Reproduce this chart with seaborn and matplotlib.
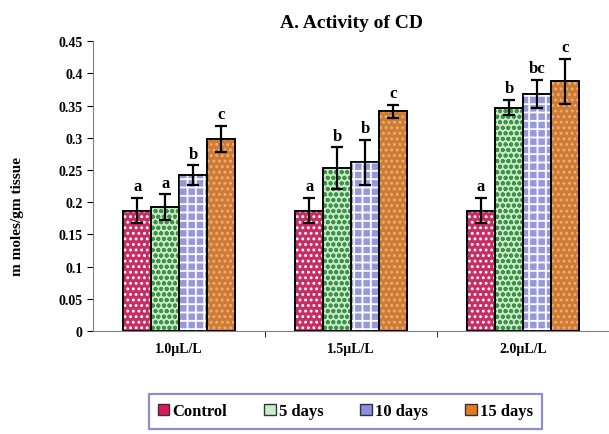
import pandas as pd
import numpy as np
import matplotlib.pyplot as plt
import seaborn as sns
from matplotlib.patches import Rectangle
from matplotlib.ticker import FuncFormatter, FixedLocator

# -----------------------------
# Data
# -----------------------------
doses = ["1.0\u00b5L/L", "1.5\u00b5L/L", "2.0\u00b5L/L"]
periods = ["Control", "5 days", "10 days", "15 days"]

control = [0.187, 0.187, 0.187]
days5 = [0.192, 0.253, 0.347]
days10 = [0.242, 0.262, 0.368]
days15 = [0.298, 0.341, 0.388]

err_control = [0.020, 0.020, 0.020]
err_days5 = [0.020, 0.032, 0.012]
err_days10 = [0.015, 0.035, 0.022]
err_days15 = [0.020, 0.010, 0.035]

letters_control = ["a", "a", "a"]
letters_days5 = ["a", "b", "b"]
letters_days10 = ["b", "b", "bc"]
letters_days15 = ["c", "c", "c"]

values = [control, days5, days10, days15]
errors = [err_control, err_days5, err_days10, err_days15]
letters = [letters_control, letters_days5, letters_days10, letters_days15]

rows = []
for p, vals, errs, lets in zip(periods, values, errors, letters):
    for d, v, e, l in zip(doses, vals, errs, lets):
        rows.append({"dose": d, "period": p, "value": v, "err": e, "letter": l})
df = pd.DataFrame(rows)

# fill colour, hatch colour, hatch pattern
face_colors = ["#e0145c", "#c8eec8", "#8c8ce6", "#e57a1e"]
hatch_colors = ["white", "#3a9444", "white", "#f4ad6a"]
hatches = ["...", "ooo", "++", "..."]

plt.rcParams["font.family"] = ["Liberation Serif", "DejaVu Serif"]
plt.rcParams["font.weight"] = "bold"
plt.rcParams["hatch.linewidth"] = 1.3

fig = plt.figure(figsize=(6.09, 4.35), dpi=100)
ax = fig.add_axes([0.153, 0.237, 0.847, 0.666])

sns.barplot(
    data=df, x="dose", y="value", hue="period",
    order=doses, hue_order=periods,
    palette=face_colors, width=0.65, errorbar=None,
    edgecolor="black", linewidth=1.2, legend=False, ax=ax
)

# hatch overlays + error bars + letters
for i, p in enumerate(periods):
    bars = ax.containers[i]
    sub = df[df["period"] == p].set_index("dose").loc[doses]
    for bar, (_, r) in zip(bars, sub.iterrows()):
        x0, w, h = bar.get_x(), bar.get_width(), bar.get_height()
        ax.add_patch(Rectangle((x0, 0), w, h, facecolor="none",
                               edgecolor=hatch_colors[i], hatch=hatches[i],
                               linewidth=0, zorder=bar.get_zorder() + 0.1))
        ax.add_patch(Rectangle((x0, 0), w, h, facecolor="none",
                               edgecolor="black", linewidth=1.2,
                               zorder=bar.get_zorder() + 0.2))
        xc = x0 + w / 2
        ax.errorbar(xc, h, yerr=r["err"], color="black", capsize=4,
                    elinewidth=1.6, capthick=1.6, zorder=5)
        ax.text(xc, h + r["err"] + 0.006, r["letter"], ha="center",
                va="bottom", fontsize=12, fontweight="bold")

ax.set_ylim(0, 0.45)
ax.set_xlim(-0.5, 2.5)
ax.set_yticks(np.arange(0, 0.451, 0.05))
ax.yaxis.set_major_formatter(FuncFormatter(lambda v, _: f"{v:.2f}".rstrip("0").rstrip(".") if v else "0"))
ax.tick_params(axis="y", labelsize=10, length=4, direction="out")
ax.tick_params(axis="x", which="major", length=0, labelsize=10, pad=8)
ax.xaxis.set_minor_locator(FixedLocator([0.5, 1.5]))
ax.tick_params(axis="x", which="minor", length=4)
for lab in ax.get_xticklabels() + ax.get_yticklabels():
    lab.set_fontweight("bold")

ax.spines["top"].set_visible(False)
ax.spines["right"].set_visible(False)
ax.spines["left"].set_color("#808080")
ax.spines["bottom"].set_color("#808080")

ax.set_xlabel("")
ax.set_ylabel("m moles/gm tissue", fontsize=11, fontweight="bold")
ax.yaxis.set_label_coords(-0.135, 0.40)
ax.set_title("A. Activity of CD", fontsize=14, fontweight="bold", pad=10)

# legend
handles = [Rectangle((0, 0), 1, 1, facecolor=c, edgecolor="#333333", linewidth=1.0)
           for c in face_colors]
leg = fig.legend(handles, periods, loc="center", bbox_to_anchor=(0.567, 0.052),
                 ncol=4, frameon=True, fancybox=False, fontsize=12,
                 handlelength=0.7, handleheight=0.7, handletextpad=0.2,
                 columnspacing=2.2, borderpad=0.55, borderaxespad=0)
leg.get_frame().set_edgecolor("#7272b8")
leg.get_frame().set_linewidth(1.6)
for t in leg.get_texts():
    t.set_fontweight("bold")

fig.savefig("out.png", dpi=100)
